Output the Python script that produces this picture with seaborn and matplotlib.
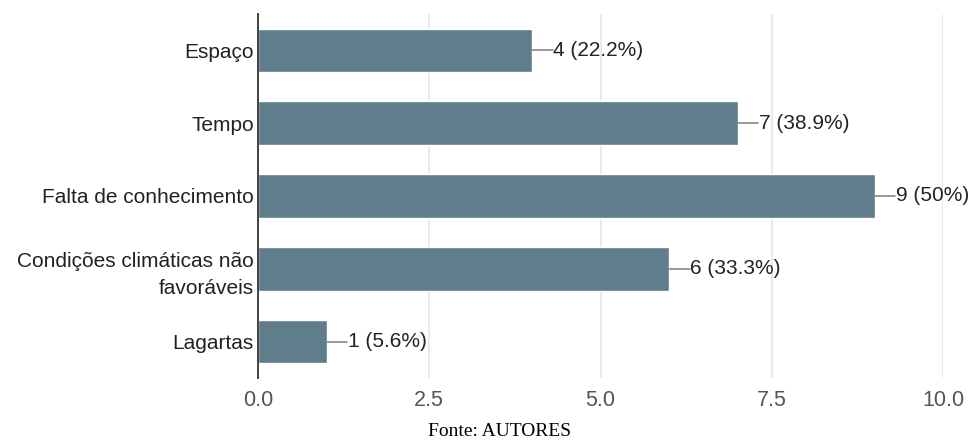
import matplotlib
matplotlib.use("Agg")
import matplotlib.pyplot as plt
import seaborn as sns
import pandas as pd

categories = ["Espaço", "Tempo", "Falta de conhecimento",
              "Condições climáticas não\nfavoráveis", "Lagartas"]
counts = [4, 7, 9, 6, 1]
percents = ["22.2%", "38.9%", "50%", "33.3%", "5.6%"]
xticks = [0.0, 2.5, 5.0, 7.5, 10.0]

df = pd.DataFrame({"categoria": categories, "n": counts})

sns.set_theme(style="white")
plt.rcParams["font.family"] = ["Liberation Sans", "DejaVu Sans"]

fig = plt.figure(figsize=(9.75, 4.47), dpi=100)
ax = fig.add_axes([258 / 975, 1 - 378 / 447, (943 - 258) / 975, (378 - 14) / 447])

sns.barplot(data=df, x="n", y="categoria", color="#607d8b", saturation=1,
            width=0.6, orient="h", ax=ax, zorder=3)

ax.set_xlim(0, 10)
ax.set_ylim(4.5, -0.5)
ax.set_xticks(xticks)
ax.set_xticklabels([f"{t:.1f}" for t in xticks])
ax.set_xlabel("")
ax.set_ylabel("")
ax.grid(axis="x", color="#e6e6e6", linewidth=1.2, zorder=0)
for s in ["top", "right", "bottom"]:
    ax.spines[s].set_visible(False)
ax.spines["left"].set_color("#333333")
ax.spines["left"].set_linewidth(1.3)
ax.spines["left"].set_zorder(4)
ax.tick_params(axis="x", length=0, labelsize=15.5, labelcolor="#555555", pad=9)
ax.tick_params(axis="y", length=0, labelsize=15, labelcolor="#222222", pad=3)
for lbl in ax.get_yticklabels():
    lbl.set_horizontalalignment("right")
    lbl.set_multialignment("right")
    lbl.set_linespacing(1.55)

# value labels with a short leader line
for i, (n, p) in enumerate(zip(counts, percents)):
    ax.plot([n, n + 0.3], [i, i], color="#888888", linewidth=1.2, zorder=4,
            clip_on=False)
    ax.text(n + 0.31, i, f"{n} ({p})", va="center", ha="left",
            fontsize=15, color="#222222", clip_on=False)

fig.text(500 / 975, 1 - 432 / 447, "Fonte: AUTORES", ha="center", va="center",
         fontsize=14, family=["Liberation Serif", "DejaVu Serif"], color="black")

fig.savefig("out.png", dpi=100)
